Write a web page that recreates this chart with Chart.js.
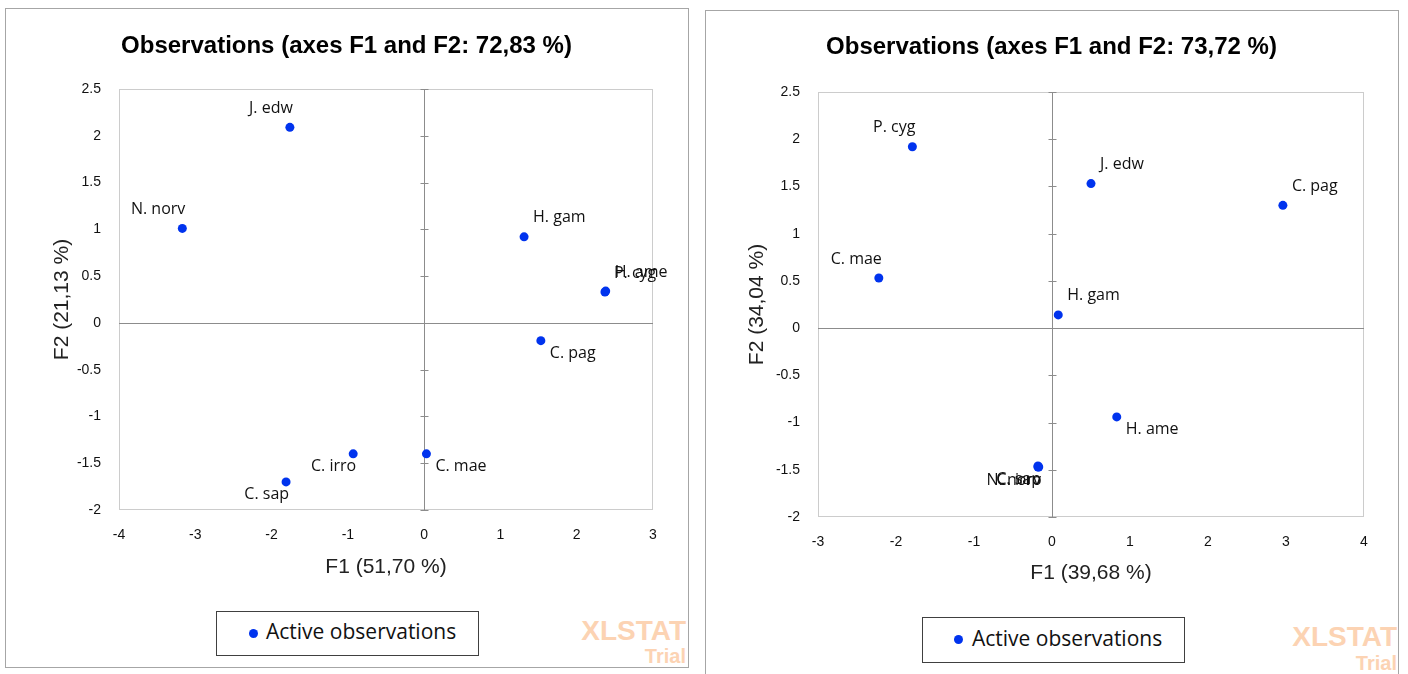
<!DOCTYPE html>
<html>
<head>
<meta charset="utf-8">
<script src="https://cdn.jsdelivr.net/npm/chart.js@4.4.1/dist/chart.umd.min.js"></script>
<style>
  body { margin: 0; background: #fff; width: 1408px; height: 674px; overflow: hidden; position: relative; }
  .panel { position: absolute; border: 1px solid #a6a6a6; box-sizing: border-box; }
  canvas { position: absolute; }
  .legend { position: absolute; border: 1px solid #404040; box-sizing: border-box; background: #fff;
            font-family: "Open Sans", sans-serif; font-size: 21px; color: #111; }
  .legend .dot { position: absolute; width: 9px; height: 9px; border-radius: 50%; background: #0033ee; }
  .legend .txt { position: absolute; white-space: nowrap; }
  .wm { position: absolute; font-family: "Liberation Sans", Arial, sans-serif; font-weight: bold; color: #fcd3b3; text-align: right; }
</style>
</head>
<body>
<div class="panel" style="left:5px;top:8px;width:684px;height:660px;"></div>
<div class="panel" style="left:705px;top:10px;width:694px;height:680px;"></div>

<canvas id="chartLeft" width="681" height="600" style="left:6px;top:9px;"></canvas>
<canvas id="chartRight" width="691" height="600" style="left:706px;top:11px;"></canvas>

<div class="legend" style="left:216px;top:611px;width:263px;height:45px;">
  <span class="dot" style="left:32px;top:17px;"></span><span class="txt" style="left:49px;top:5px;">Active observations</span>
</div>
<div class="legend" style="left:922px;top:617px;width:263px;height:46px;">
  <span class="dot" style="left:31px;top:17px;"></span><span class="txt" style="left:49px;top:6px;">Active observations</span>
</div>

<div class="wm" style="left:560px;top:616px;width:126px;font-size:28px;line-height:30px;">XLSTAT</div>
<div class="wm" style="left:600px;top:645px;width:86px;font-size:20px;line-height:22px;">Trial</div>
<div class="wm" style="left:1270px;top:622px;width:127px;font-size:28px;line-height:30px;">XLSTAT</div>
<div class="wm" style="left:1310px;top:652px;width:87px;font-size:20px;line-height:22px;">Trial</div>

<script>
// left chart: axes F1 and F2 72,83 %
var namesLeft = ['J. edw', 'N. norv', 'H. gam', 'P. cyg', 'H. ame', 'C. pag', 'C. irro', 'C. sap', 'C. mae'];
var f1Left = [-1.76, -3.17, 1.31, 2.37, 2.38, 1.53, -0.93, -1.81, 0.03];
var f2Left = [2.09, 1.01, 0.92, 0.33, 0.34, -0.19, -1.40, -1.70, -1.40];

// right chart: axes F1 and F2 73,72 %
var namesRight = ['P. cyg', 'J. edw', 'C. pag', 'C. mae', 'H. gam', 'H. ame', 'N. norv', 'C. irro', 'C. sap'];
var f1Right = [-1.79, 0.50, 2.96, -2.22, 0.08, 0.83, -0.18, -0.17, -0.18];
var f2Right = [1.92, 1.53, 1.30, 0.53, 0.14, -0.94, -1.47, -1.47, -1.46];

// where each label sits next to its point (t/b = above/below, l/r = side)
var placeLeft = { 'J. edw': 'tl', 'N. norv': 'tl', 'H. gam': 'tr', 'P. cyg': 'tr', 'H. ame': 'tr',
                  'C. pag': 'br', 'C. irro': 'bl', 'C. sap': 'bl', 'C. mae': 'br' };
var placeRight = { 'P. cyg': 'tl', 'J. edw': 'tr', 'C. pag': 'tr', 'C. mae': 'tl', 'H. gam': 'tr',
                   'H. ame': 'br', 'N. norv': 'bl', 'C. irro': 'bl', 'C. sap': 'bl' };

var blue = '#0033ee';

// frame of the plot + the two axes through zero (ticks only on the vertical one)
var crossAxes = {
    id: 'crossAxes',
    beforeDatasetsDraw: function(chart) {
        var ctx = chart.ctx, a = chart.chartArea, x = chart.scales.x, y = chart.scales.y;
        ctx.save();
        ctx.lineWidth = 1;
        ctx.strokeStyle = '#cccccc';
        ctx.strokeRect(Math.round(a.left) + 0.5, Math.round(a.top) + 0.5, Math.round(a.width) - 1, Math.round(a.height) - 1);
        var x0 = Math.round(x.getPixelForValue(0)) + 0.5;
        var y0 = Math.round(y.getPixelForValue(0)) + 0.5;
        ctx.strokeStyle = '#8c8c8c';
        ctx.beginPath();
        ctx.moveTo(x0, a.top); ctx.lineTo(x0, a.bottom);
        ctx.moveTo(a.left, y0); ctx.lineTo(a.right, y0);
        y.ticks.forEach(function(t) {
            var py = Math.round(y.getPixelForValue(t.value)) + 0.5;
            ctx.moveTo(x0 - 4, py); ctx.lineTo(x0 + 4, py);
        });
        ctx.stroke();
        ctx.restore();
    }
};

var pointLabels = {
    id: 'pointLabels',
    afterDatasetsDraw: function(chart) {
        var ctx = chart.ctx;
        var meta = chart.getDatasetMeta(0);
        var names = chart.data.datasets[0].names;
        var place = chart.data.datasets[0].place;
        ctx.save();
        ctx.font = '16px "Open Sans", sans-serif';
        ctx.fillStyle = '#111';
        ctx.textBaseline = 'middle';
        meta.data.forEach(function(pt, i) {
            var p = place[names[i]] || 'tr';
            var dy = p[0] == 't' ? -19 : 13;
            if (p[1] == 'l') {
                ctx.textAlign = 'right';
                ctx.fillText(names[i], pt.x + 3, pt.y + dy);
            } else {
                ctx.textAlign = 'left';
                ctx.fillText(names[i], pt.x + 9, pt.y + dy);
            }
        });
        ctx.restore();
    }
};

function montarGrafico(id, opts) {
    var pts = opts.f1.map(function(v, i) { return { x: v, y: opts.f2[i] }; });
    return new Chart(document.getElementById(id).getContext('2d'), {
        type: 'scatter',
        data: {
            datasets: [{
                label: 'Active observations',
                data: pts,
                names: opts.names,
                place: opts.place,
                backgroundColor: blue,
                borderWidth: 0,
                pointRadius: 4.5
            }]
        },
        options: {
            responsive: false,
            animation: false,
            // same padding both sides so the title stays centred in the panel
            layout: { padding: { left: opts.pad, right: opts.pad } },
            plugins: {
                legend: { display: false },
                tooltip: { enabled: false },
                title: {
                    display: true,
                    text: opts.title,
                    color: '#000',
                    font: { family: '"Liberation Sans", Arial, sans-serif', size: 24, weight: 'bold', lineHeight: 1 },
                    padding: { top: opts.titleTop, bottom: opts.titleBottom }
                }
            },
            scales: {
                x: {
                    type: 'linear',
                    min: opts.xMin, max: opts.xMax,
                    grid: { display: false, drawTicks: false },
                    border: { display: false },
                    ticks: { stepSize: 1, padding: opts.xTickPad, color: '#111',
                             callback: function(v) { return String(v); },
                             font: { family: '"Liberation Sans", Arial, sans-serif', size: 14 } },
                    title: { display: true, text: opts.xTitle, color: '#222',
                             font: { family: '"Liberation Sans", Arial, sans-serif', size: 21, lineHeight: 1 },
                             padding: { top: 0, bottom: opts.xTitleBottom } },
                    afterFit: function(s) { s.height = opts.xAxisH; }
                },
                y: {
                    type: 'linear',
                    min: -2, max: 2.5,
                    grid: { display: false, drawTicks: false },
                    border: { display: false },
                    ticks: { stepSize: 0.5, padding: 18, color: '#111',
                             callback: function(v) { return String(v); },
                             font: { family: '"Liberation Sans", Arial, sans-serif', size: 14 } },
                    title: { display: true, text: opts.yTitle, color: '#222',
                             font: { family: '"Liberation Sans", Arial, sans-serif', size: 21, lineHeight: 1 },
                             padding: { top: opts.yTitleTop, bottom: 0 } },
                    afterFit: function(s) { s.width = opts.yAxisW; }
                }
            }
        },
        plugins: [crossAxes, pointLabels]
    });
}

montarGrafico('chartLeft', {
    names: namesLeft, f1: f1Left, f2: f2Left, place: placeLeft,
    title: 'Observations (axes F1 and F2: 72,83 %)',
    xTitle: 'F1 (51,70 %)', yTitle: 'F2 (21,13 %)',
    xMin: -4, xMax: 3,
    pad: 34, titleTop: 25, titleBottom: 31,
    yAxisW: 79, xAxisH: 99, xTickPad: 17, xTitleBottom: 31, yTitleTop: 12
});

montarGrafico('chartRight', {
    names: namesRight, f1: f1Right, f2: f2Right, place: placeRight,
    title: 'Observations (axes F1 and F2: 73,72 %)',
    xTitle: 'F1 (39,68 %)', yTitle: 'F2 (34,04 %)',
    xMin: -3, xMax: 4,
    pad: 33, titleTop: 24, titleBottom: 33,
    yAxisW: 79, xAxisH: 94, xTickPad: 17, xTitleBottom: 27, yTitleTop: 8
});
</script>
</body>
</html>
